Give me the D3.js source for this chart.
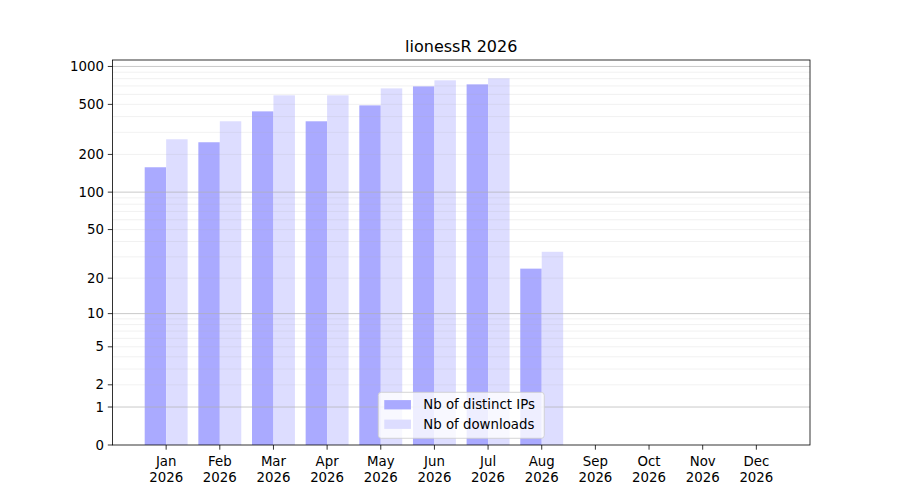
<!DOCTYPE html>
<html>
<head>
<meta charset="utf-8">
<script src="https://cdn.jsdelivr.net/npm/d3@7"></script>
<style>
  body { margin: 0; background: #fff; }
  svg { display: block; font-family: "DejaVu Sans", sans-serif; }
</style>
</head>
<body>
<div id="chart"></div>
<script>
/* lionessR 2026 — monthly distinct IPs vs downloads, log10(1+x) y axis */
var months = ['Jan', 'Feb', 'Mar', 'Apr', 'May', 'Jun', 'Jul', 'Aug', 'Sep', 'Oct', 'Nov', 'Dec'];
var yearLabel = '2026';
var distinctIPs = [158, 250, 440, 367, 491, 695, 721, 24, null, null, null, null];
var downloads = [264, 367, 590, 590, 670, 776, 805, 33, null, null, null, null];
var yTickValues = [0, 1, 2, 5, 10, 20, 50, 100, 200, 500, 1000];
var majorGrid = [1, 10, 100, 1000];
var minorGrid = [2, 3, 4, 5, 6, 7, 8, 9, 20, 30, 40, 50, 60, 70, 80, 90, 200, 300, 400, 500, 600, 700, 800, 900];
var seriesNames = ['Nb of distinct IPs', 'Nb of downloads'];
var seriesColors = ['#aaaaff', '#ddddff'];

(function () {
  'use strict';
  var W = 900, H = 500;
  var margin = { top: 60, right: 90, bottom: 55, left: 112.5 };
  var iw = W - margin.left - margin.right;
  var ih = H - margin.top - margin.bottom;
  var fs = 13.33;

  function tf(v) { return Math.log10(1 + v); }

  var svg = d3.select('#chart').append('svg').attr('width', W).attr('height', H);
  var g = svg.append('g').attr('transform', 'translate(' + margin.left + ',' + margin.top + ')');

  var maxT = d3.max(distinctIPs.concat(downloads).filter(function (d) { return d != null; }), tf);
  var x = d3.scaleLinear().domain([0, 13]).range([0, iw]);
  var yT = d3.scaleLinear().domain([0, maxT * 1.05]).range([ih, 0]);
  function y(v) { return yT(tf(v)); }

  var bw = 0.4;

  /* bars */
  [distinctIPs, downloads].forEach(function (series, si) {
    g.append('g').selectAll('rect')
      .data(series.map(function (v, i) { return { v: v, i: i }; }).filter(function (d) { return d.v != null; }))
      .enter().append('rect')
      .attr('x', function (d) { return x(d.i + 1 + (si === 0 ? -bw : 0)); })
      .attr('width', x(bw) - x(0))
      .attr('y', function (d) { return y(d.v); })
      .attr('height', function (d) { return y(0) - y(d.v); })
      .attr('fill', seriesColors[si]);
  });

  /* grid above bars (matplotlib default zorder) */
  g.append('g').selectAll('line').data(minorGrid).enter().append('line')
    .attr('x1', 0).attr('x2', iw)
    .attr('y1', y).attr('y2', y)
    .attr('stroke', '#b0b0b0').attr('stroke-opacity', 0.22).attr('stroke-width', 0.8);
  g.append('g').selectAll('line').data(majorGrid).enter().append('line')
    .attr('x1', 0).attr('x2', iw)
    .attr('y1', y).attr('y2', y)
    .attr('stroke', '#b0b0b0').attr('stroke-opacity', 0.85).attr('stroke-width', 0.8);

  /* y axis */
  var yAxis = g.append('g');
  yTickValues.forEach(function (v) {
    yAxis.append('line').attr('x1', -4.7).attr('x2', 0).attr('y1', y(v)).attr('y2', y(v))
      .attr('stroke', '#000').attr('stroke-width', 0.8);
    yAxis.append('text').attr('x', -8.5).attr('y', y(v)).attr('dy', '0.35em')
      .attr('text-anchor', 'end').style('font-size', fs + 'px').text(v);
  });

  /* x axis */
  var xAxis = g.append('g').attr('transform', 'translate(0,' + ih + ')');
  months.forEach(function (m, i) {
    var px = x(i + 1);
    xAxis.append('line').attr('x1', px).attr('x2', px).attr('y1', 0).attr('y2', 4.7)
      .attr('stroke', '#000').attr('stroke-width', 0.8);
    var t = xAxis.append('text').attr('x', px).attr('y', 21)
      .attr('text-anchor', 'middle').style('font-size', fs + 'px');
    t.append('tspan').attr('x', px).text(m);
    t.append('tspan').attr('x', px).attr('dy', 15.5).text(yearLabel);
  });

  /* frame */
  g.append('rect').attr('width', iw).attr('height', ih)
    .attr('fill', 'none').attr('stroke', '#000').attr('stroke-width', 0.8);

  /* title */
  svg.append('text').attr('x', margin.left + iw / 2).attr('y', margin.top - 8)
    .attr('text-anchor', 'middle').style('font-size', '16px').text('lionessR 2026');

  /* legend, lower center */
  var lw = 166, lh = 46;
  var lg = g.append('g').attr('transform', 'translate(' + (iw / 2 - lw / 2) + ',' + (ih - 6.7 - lh) + ')');
  lg.append('rect').attr('width', lw).attr('height', lh).attr('rx', 3)
    .attr('fill', '#fff').attr('fill-opacity', 0.8).attr('stroke', '#cccccc').attr('stroke-width', 0.8);
  seriesNames.forEach(function (name, i) {
    var cy = 12.5 + i * 19.5;
    lg.append('rect').attr('x', 6).attr('y', cy - 4.7).attr('width', 26.7).attr('height', 9.3)
      .attr('fill', seriesColors[i]);
    lg.append('text').attr('x', 45).attr('y', cy).attr('dy', '0.35em')
      .style('font-size', fs + 'px').text(name);
  });
})();
</script>
</body>
</html>
